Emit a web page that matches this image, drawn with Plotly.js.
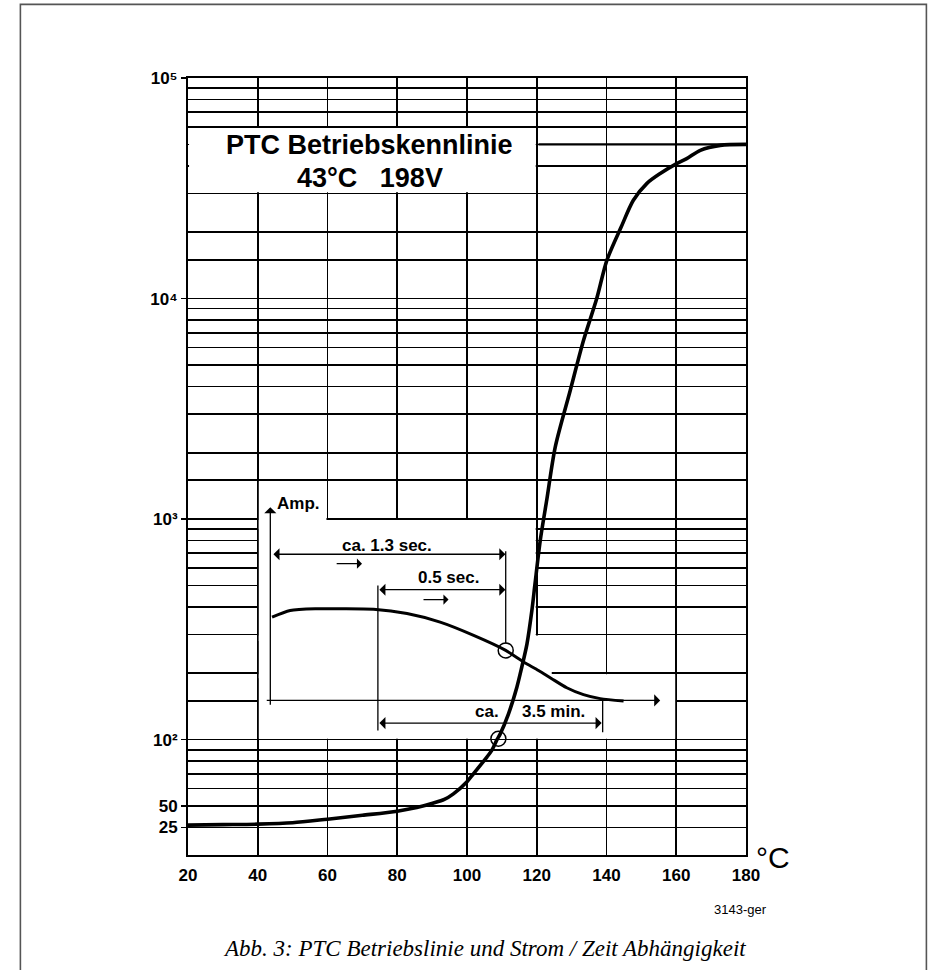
<!DOCTYPE html>
<html><head><meta charset="utf-8">
<script src="https://cdn.plot.ly/plotly-3.0.1.min.js"></script>
<style>html,body{margin:0;padding:0;background:#fff}</style>
</head><body><div id="chart" style="width:930px;height:970px"></div>
<script>
// PTC operating characteristic (temperature in °C vs. value, log scale)
const ptcTemp  = [20, 30, 40, 50, 60, 70, 80, 85.6, 90.4, 93.5, 96.1, 100, 101.9, 105.7, 107.1, 108.6, 109.5, 111.9, 114.3, 115.7, 117.2, 118.6, 119.5, 121, 122.9, 125.3, 129.6, 133.4, 137.2, 140.1, 144.2, 147.7, 151.6, 155.4, 160.1, 163, 166.9, 172.6, 180];
const ptcValue = [41, 41.2, 41.4, 42, 43.6, 45.4, 47.4, 49.2, 51.6, 53.6, 56.8, 64.5, 70.2, 83.4, 89.4, 100, 106, 131, 173, 213, 272, 385, 509, 800, 1230, 2120, 3830, 6450, 10000, 14900, 21100, 27900, 33300, 36900, 40900, 43100, 47000, 49500, 50000];
// Inset: current over time
const ampTemp  = [44.1, 49.3, 57, 63.7, 73.2, 82.8, 92.3, 101.9, 111.1, 116.2, 120.5, 124.3, 128.6, 133.4, 138.2, 144.9];
const ampValue = [359, 385, 392, 392, 390, 373, 341, 297, 254, 225, 206, 189, 172, 160, 153.5, 149.7];
// Limit line of the characteristic
const limitTemp  = [120.5, 180];
const limitValue = [50000, 50000];
// Marked points
const markTemp  = [111.1, 109.0];
const markValue = [254, 101];
// Axis ticks
const xTicks = [20, 40, 60, 80, 100, 120, 140, 160, 180];
const yTickVals = [40, 50, 100, 1000, 10000, 100000];
const yTickText = ['25', '50', '10\u00b2', '10\u00b3', '10\u2074', '10\u2075'];
const yMinorVals = [60, 70, 80, 90, 150, 200, 300, 400, 500, 600, 700, 800, 900,
  1500, 2000, 3000, 4000, 5000, 6000, 7000, 8000, 9000,
  15000, 20000, 30000, 40000, 50000, 60000, 70000, 80000, 90000];
// Inset annotation geometry
const spanFrom  = [44.07, 74.45, 74.45];
const spanTo    = [111.0, 111.0, 138.6];
const spanAt    = [693, 478.6, 118.9];
const smallFrom = [62.2, 87.1];
const smallTo   = [69.9, 94.7];
const smallAt   = [628, 431.5];
const vlineX    = [111.1, 74.45, 138.9];
const vlineTop  = [715, 500, 150.7];
const vlineBot  = [273, 110, 108.2];
const insetYAxisX = 43.6, insetYAxisFrom = 141.6, insetYAxisTo = 1133;
const insetXAxisY = 150.7, insetXAxisFrom = 42.15, insetXAxisTo = 155.4;

const L = Math.log10;
const FONT = 'Liberation Sans, Arial, sans-serif';

const traces = [
  {x: ptcTemp, y: ptcValue, mode: 'lines', line: {color: 'black', width: 3.6, shape: 'spline', smoothing: 0.8}, hoverinfo: 'skip'},
  {x: ampTemp, y: ampValue, mode: 'lines', line: {color: 'black', width: 3, shape: 'spline', smoothing: 0.7}, hoverinfo: 'skip'},
  {x: limitTemp, y: limitValue, mode: 'lines', line: {color: 'black', width: 2.3}, hoverinfo: 'skip'},
  {x: markTemp, y: markValue, mode: 'markers', marker: {symbol: 'circle-open', size: 15, color: 'black', line: {width: 1.5, color: 'black'}}, hoverinfo: 'skip'}
];
vlineX.forEach((vx, i) => {
  traces.push({x: [vx, vx], y: [vlineTop[i], vlineBot[i]], mode: 'lines', line: {color: 'black', width: 1.3}, hoverinfo: 'skip'});
});

const annotations = [];
function arrow(x0, y0, x1, y1, both, size) {
  annotations.push({x: x1, y: L(y1), ax: x0, ay: L(y0), xref: 'x', yref: 'y', axref: 'x', ayref: 'y',
    text: '', showarrow: true, arrowhead: 1, startarrowhead: 1, arrowsize: size, startarrowsize: size,
    arrowwidth: 1.3, arrowcolor: 'black', arrowside: both ? 'end+start' : 'end', standoff: 0, startstandoff: 0});
}
spanFrom.forEach((f, i) => arrow(f, spanAt[i], spanTo[i], spanAt[i], true, 1.55));
smallFrom.forEach((f, i) => arrow(f, smallAt[i], smallTo[i], smallAt[i], false, 1.3));
arrow(insetYAxisX, insetYAxisFrom, insetYAxisX, insetYAxisTo, false, 1.55);
arrow(insetXAxisFrom, insetXAxisY, insetXAxisTo, insetXAxisY, false, 1.55);

function txt(x, y, t, size, anchor) {
  annotations.push({x: x, y: y, xref: 'x', yref: 'y', text: t, showarrow: false,
    xanchor: anchor || 'center', yanchor: 'middle', font: {family: FONT, size: size, color: 'black'}});
}
txt(45.0, 3.071, '<b>Amp.</b>', 17, 'left');
txt(77.0, 2.881, '<b>ca. 1.3 sec.</b>', 17);
txt(94.7, 2.734, '<b>0.5 sec.</b>', 17);
txt(105.7, 2.128, '<b>ca.</b>', 17);
txt(124.7, 2.128, '<b>3.5 min.</b>', 17);
txt(72.1, 4.695, '<b>PTC Betriebskennlinie</b>', 27);
txt(72.1, 4.545, '<b>43°C\u00a0\u00a0\u00a0198V</b>', 27);

const px2x = p => (p - 187.7) / 558.3;
const px2y = p => (855 - p) / 777.3;
function ptxt(px, py, t, font) {
  annotations.push({x: px2x(px), y: px2y(py), xref: 'paper', yref: 'paper', text: t, showarrow: false,
    xanchor: 'center', yanchor: 'middle', font: font});
}
ptxt(773, 858, '°C', {family: FONT, size: 30, color: 'black'});
ptxt(740, 910, '3143-ger', {family: FONT, size: 13, color: 'black'});
ptxt(484.5, 949, '<i>Abb. 3: PTC Betriebslinie und Strom / Zeit Abhängigkeit</i>', {family: 'Liberation Serif, Times New Roman, serif', size: 23, color: 'black'});

const white = {type: 'rect', xref: 'x', yref: 'y', layer: 'between', fillcolor: 'white', line: {width: 0}};
const shapes = [
  Object.assign({x0: 20.3, x1: 119.7, y0: 30300, y1: 59400}, white),
  Object.assign({x0: 40.3, x1: 59.7, y0: 900, y1: 1485}, white),
  Object.assign({x0: 40.3, x1: 119.7, y0: 280, y1: 990}, white),
  Object.assign({x0: 40.3, x1: 124.3, y0: 190, y1: 297}, white),
  Object.assign({x0: 40.3, x1: 159.7, y0: 101, y1: 198}, white),
  {type: 'rect', xref: 'paper', yref: 'paper', layer: 'below', x0: px2x(20), x1: px2x(926.5), y0: px2y(990), y1: px2y(4),
   line: {color: '#555', width: 1.6}, fillcolor: 'rgba(0,0,0,0)'}
];

const layout = {
  width: 930, height: 970,
  margin: {l: 187.7, r: 930 - 746, t: 77.7, b: 115},
  paper_bgcolor: 'white', plot_bgcolor: 'white',
  showlegend: false,
  xaxis: {type: 'linear', range: [20, 180], tickmode: 'array', tickvals: xTicks,
    showgrid: true, gridcolor: 'black', gridwidth: 1.6, zeroline: false,
    showline: true, linecolor: 'black', linewidth: 2, mirror: true, ticks: '',
    tickfont: {family: FONT, size: 17, color: 'black', weight: 'bold'}, ticklabelstandoff: 4, fixedrange: true},
  yaxis: {type: 'log', range: [L(30), 5], tickmode: 'array', tickvals: yTickVals, ticktext: yTickText,
    showgrid: true, gridcolor: 'black', gridwidth: 1.6, zeroline: false,
    showline: true, linecolor: 'black', linewidth: 2, mirror: true,
    ticks: 'outside', ticklen: 5, tickwidth: 1.6, tickcolor: 'black',
    tickfont: {family: FONT, size: 17, color: 'black', weight: 'bold'}, ticklabelstandoff: 0,
    minor: {tickmode: 'array', tickvals: yMinorVals, showgrid: true, gridcolor: 'black', gridwidth: 1.6, ticks: ''},
    fixedrange: true},
  shapes: shapes,
  annotations: annotations
};

Plotly.newPlot('chart', traces, layout, {staticPlot: true, displayModeBar: false});
</script>
</body></html>
